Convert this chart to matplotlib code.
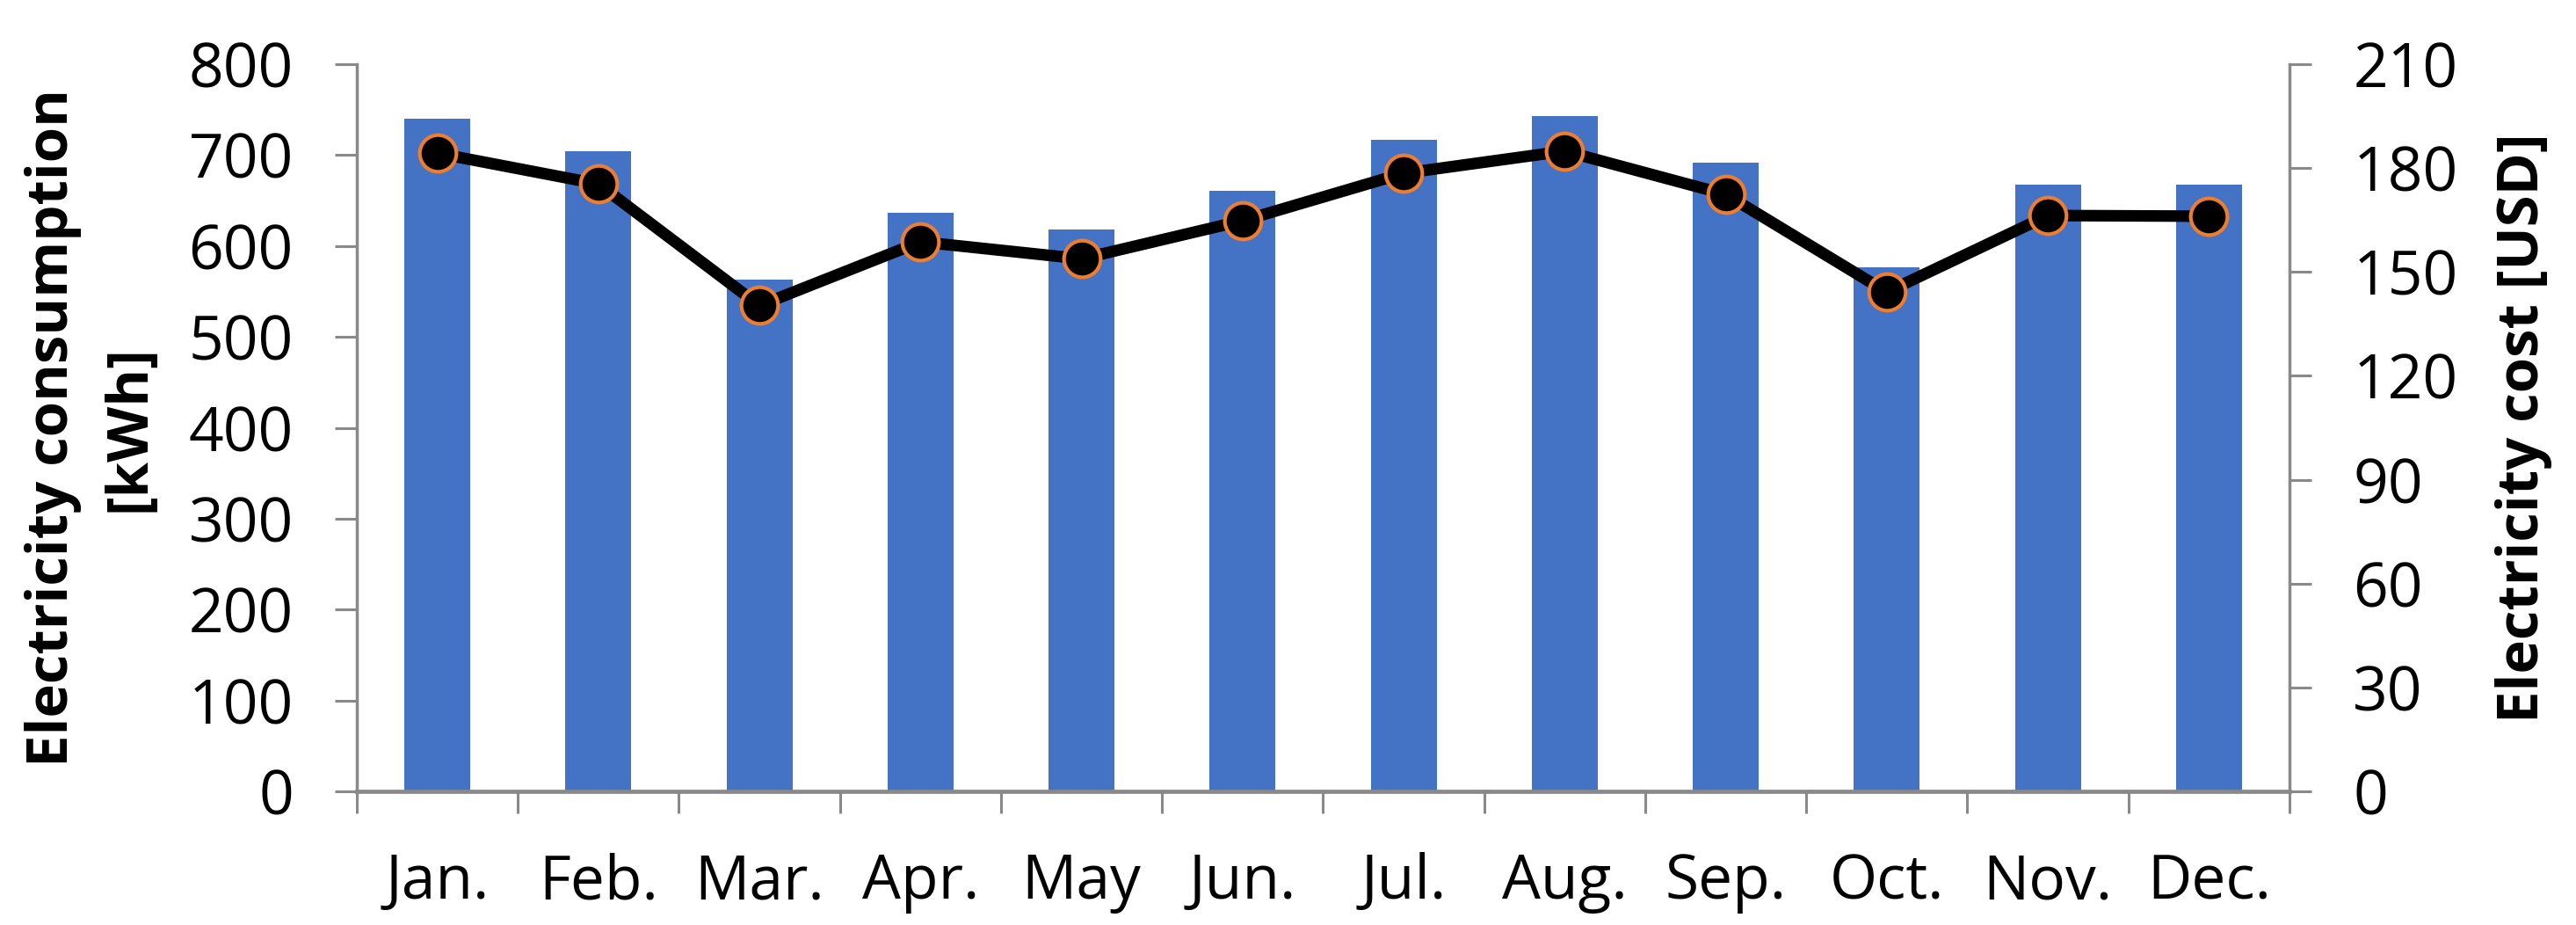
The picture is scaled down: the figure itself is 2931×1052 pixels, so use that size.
import numpy as np
import matplotlib
matplotlib.use("Agg")
import matplotlib.pyplot as plt

months = ["Jan.", "Feb.", "Mar.", "Apr.", "May", "Jun.",
          "Jul.", "Aug.", "Sep.", "Oct.", "Nov.", "Dec."]
consumption_kwh = [740, 704, 563, 637, 618, 661, 717, 743, 692, 577, 667, 667]
cost_usd = [184.3, 175.4, 140.3, 158.7, 153.8, 164.8, 178.5, 184.9, 172.4, 144.2, 166.3, 166.1]

left_ticks = list(range(0, 801, 100))
right_ticks = list(range(0, 211, 30))

bar_color = "#4472C4"
edge_orange = "#ED7D31"
axis_gray = "#898989"

plt.rcParams["font.family"] = ["Open Sans", "DejaVu Sans"]

fig = plt.figure(figsize=(29.31, 10.52), dpi=100)
ax = fig.add_axes([406 / 2931, 1 - 900 / 1052, (2605 - 406) / 2931, (900 - 73) / 1052])
ax2 = ax.twinx()

x = np.arange(len(months))
ax.bar(x, consumption_kwh, width=0.41, color=bar_color, zorder=2)
ax2.plot(x, cost_usd, color="black", linewidth=9.5, marker="o", markersize=30,
         markerfacecolor="black", markeredgecolor=edge_orange, markeredgewidth=3,
         solid_joinstyle="round", zorder=3)

ax.set_xlim(-0.5, len(months) - 0.5)
ax.set_ylim(0, 800)
ax2.set_ylim(0, 210)
ax.set_yticks(left_ticks)
ax2.set_yticks(right_ticks)

# category boundaries carry the tick marks, labels sit at the centers
ax.set_xticks(np.arange(len(months) + 1) - 0.5)
ax.set_xticklabels([])
ax.set_xticks(x, minor=True)
ax.set_xticklabels(months, minor=True)

tick_font = 50
ax.tick_params(axis="x", which="major", direction="out", length=18, width=2.2,
               color=axis_gray)
ax.tick_params(axis="x", which="minor", length=0, pad=50, labelsize=tick_font)
ax.tick_params(axis="y", direction="out", length=18, width=2.2, color=axis_gray,
               pad=34, labelsize=tick_font)
ax2.tick_params(axis="y", direction="out", length=18, width=2.2, color=axis_gray,
                pad=34, labelsize=tick_font)

for a in (ax, ax2):
    a.spines["top"].set_visible(False)
    for side in ("left", "right", "bottom"):
        a.spines[side].set_color(axis_gray)
    a.spines["left"].set_linewidth(2.5)
    a.spines["right"].set_linewidth(2.5)
    a.spines["bottom"].set_linewidth(3.4)
ax.spines["right"].set_visible(False)
ax2.spines["left"].set_visible(False)
ax2.spines["bottom"].set_visible(False)

fig.text(104 / 2931, 1 - 487 / 1052, "Electricity consumption\n[kWh]",
         rotation=90, ha="center", va="center", fontsize=47, fontweight="bold",
         linespacing=1.45)
fig.text(2872 / 2931, 1 - 487 / 1052, "Electricity cost [USD]",
         rotation=90, ha="center", va="center", fontsize=47, fontweight="bold")

fig.savefig("out.png", dpi=100)
